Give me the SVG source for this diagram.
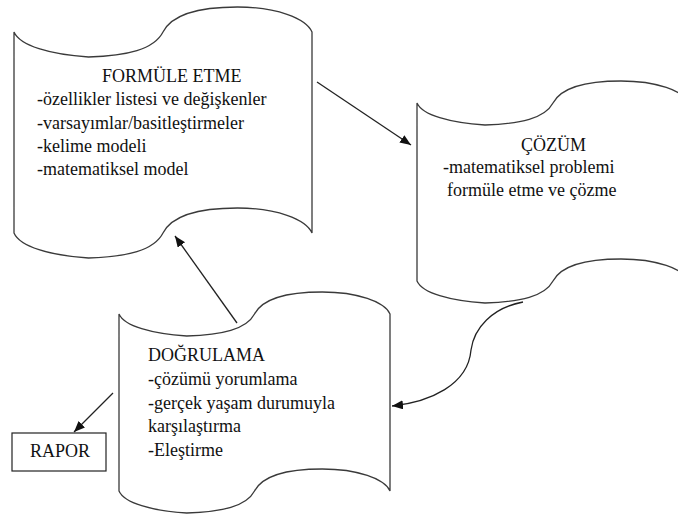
<svg xmlns="http://www.w3.org/2000/svg" width="678" height="514" viewBox="0 0 678 514">
  <style>
    .tape { fill: #ffffff; stroke: #3a3a3a; stroke-width: 1.3; }
    .box { fill: #ffffff; stroke: #222222; stroke-width: 1.2; }
    .conn { fill: none; stroke: #222222; stroke-width: 1.3; }
    .lbl { font-family: 'Liberation Serif', 'Times New Roman', serif; font-size: 18px; fill: #111111; }
  </style>
  <defs>
    <marker id="arrow" markerUnits="userSpaceOnUse" markerWidth="12" markerHeight="10" refX="11" refY="4.5" orient="auto">
      <path d="M0,0 L11,4.5 L0,9 Z" fill="#111111"/>
    </marker>
  </defs>
  <rect width="678" height="514" fill="#ffffff"/>

  <!-- Formulation stage -->
  <g id="formule-etme">
    <path class="tape" d="M14,32 C20,45.75 49.8,54.5 88.5,57 C127.2,55.75 154,49.5 163,32 C172,14.5 198.8,7 237.5,7 C276.2,7 306,18.25 312,32 L312,233 C306,219.25 276.2,208 237.5,208 C198.8,208 172,215.5 163,233 C154,250.5 127.2,256.75 88.5,258 C49.8,255.5 20,246.75 14,233 Z"/>
    <g class="lbl">
      <text x="102" y="82">FORMÜLE ETME</text>
      <text x="37" y="105">-özellikler listesi ve değişkenler</text>
      <text x="37" y="129">-varsayımlar/basitleştirmeler</text>
      <text x="37" y="152">-kelime modeli</text>
      <text x="37" y="175">-matematiksel model</text>
    </g>
  </g>

  <!-- Solution stage -->
  <g id="cozum">
    <path class="tape" d="M417,103 C422.4,115.1 449.6,122.8 485,125 C520.4,123.9 544.8,118.4 553,103 C561.2,87.6 585.6,81 621,81 C656.4,81 683.6,90.9 689,103 L689,281 C683.6,268.9 656.4,259 621,259 C585.6,259 561.2,265.6 553,281 C544.8,296.4 520.4,301.9 485,303 C449.6,300.8 422.4,293.1 417,281 Z"/>
    <g class="lbl">
      <text x="521" y="151">ÇÖZÜM</text>
      <text x="443" y="173">-matematiksel problemi</text>
      <text x="447" y="196">formüle etme ve çözme</text>
    </g>
  </g>

  <!-- Verification stage -->
  <g id="dogrulama">
    <path class="tape" d="M119,314 C124.4,326.1 151.5,333.8 186.75,336 C222,334.9 246.4,329.4 254.5,314 C262.6,298.6 287,292 322.25,292 C357.5,292 384.6,301.9 390,314 L390,491 C384.6,478.9 357.5,469 322.25,469 C287,469 262.6,475.6 254.5,491 C246.4,506.4 222,511.9 186.75,513 C151.5,510.8 124.4,503.1 119,491 Z"/>
    <g class="lbl">
      <text x="148" y="361">DOĞRULAMA</text>
      <text x="148" y="385">-çözümü yorumlama</text>
      <text x="148" y="409">-gerçek yaşam durumuyla</text>
      <text x="148" y="432">karşılaştırma</text>
      <text x="148" y="456">-Eleştirme</text>
    </g>
  </g>

  <!-- Report -->
  <g id="rapor">
    <rect class="box" x="12" y="433" width="94" height="38"/>
    <text class="lbl" x="30" y="457">RAPOR</text>
  </g>

  <!-- Connectors -->
  <g id="connectors">
    <line class="conn" x1="317" y1="82" x2="411" y2="145" marker-end="url(#arrow)"/>
    <line class="conn" x1="237" y1="323" x2="175" y2="236" marker-end="url(#arrow)"/>
    <line class="conn" x1="113" y1="393" x2="74" y2="432" marker-end="url(#arrow)"/>
    <path class="conn" d="M523,302 C492,308 474,328 471,350 C468,385 430,402 392,406" marker-end="url(#arrow)"/>
  </g>
</svg>
